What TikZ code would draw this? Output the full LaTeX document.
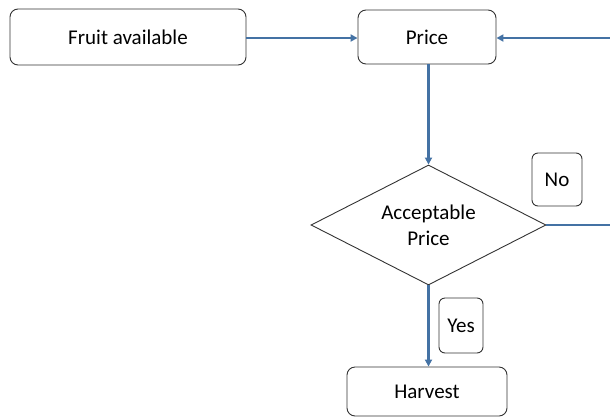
\documentclass[tikz,border=0pt]{standalone}
\usepackage{fontspec}
\setmainfont{Carlito}
\usetikzlibrary{arrows.meta,shapes.geometric}
\definecolor{flowblue}{RGB}{68,114,164}
\begin{document}
\begin{tikzpicture}[x=1pt,y=-1pt,
  box/.style={draw=black!80,line width=0.9pt,rounded corners=8pt,fill=white,font=\fontsize{21}{25}\selectfont,inner sep=0pt},
  lab/.style={draw=black!80,line width=0.9pt,rounded corners=6pt,fill=white,font=\fontsize{21}{25}\selectfont,inner sep=0pt},
  flow/.style={draw=flowblue,line width=2.6pt,-{Triangle[length=7pt,width=7pt]}},
  flowline/.style={draw=flowblue,line width=2.6pt}]
\useasboundingbox (0,0) rectangle (610,418);
\node[box,minimum width=236pt,minimum height=56pt] (fruit) at (128,37) {Fruit available};
\node[box,minimum width=138pt,minimum height=54pt] (price) at (427,37) {Price};
\node[draw=black!80,line width=0.9pt,fill=white,diamond,aspect=1.96,minimum width=235pt,minimum height=120pt,inner sep=0pt,font=\fontsize{21}{26}\selectfont,align=center] (acc) at (428.5,225) {Acceptable\\Price};
\node[lab,minimum width=50pt,minimum height=53pt] (no) at (557,179.5) {No};
\node[lab,minimum width=44pt,minimum height=55pt] (yes) at (461,325.5) {Yes};
\node[box,minimum width=160pt,minimum height=49pt] (harvest) at (427,391.5) {Harvest};
\coordinate (rin) at (612,38);
\coordinate (rout) at (612,225);
\draw[flow] (fruit.east |- 0,38) -- (price.west |- 0,38);
\draw[flow] (rin) -- (price.east |- rin);
\draw[flow] (price.south -| acc.north) -- (acc.north);
\draw[flowline] (acc.east) -- (rout);
\draw[flow] (acc.south) -- (harvest.north -| acc.south);
\end{tikzpicture}
\end{document}
